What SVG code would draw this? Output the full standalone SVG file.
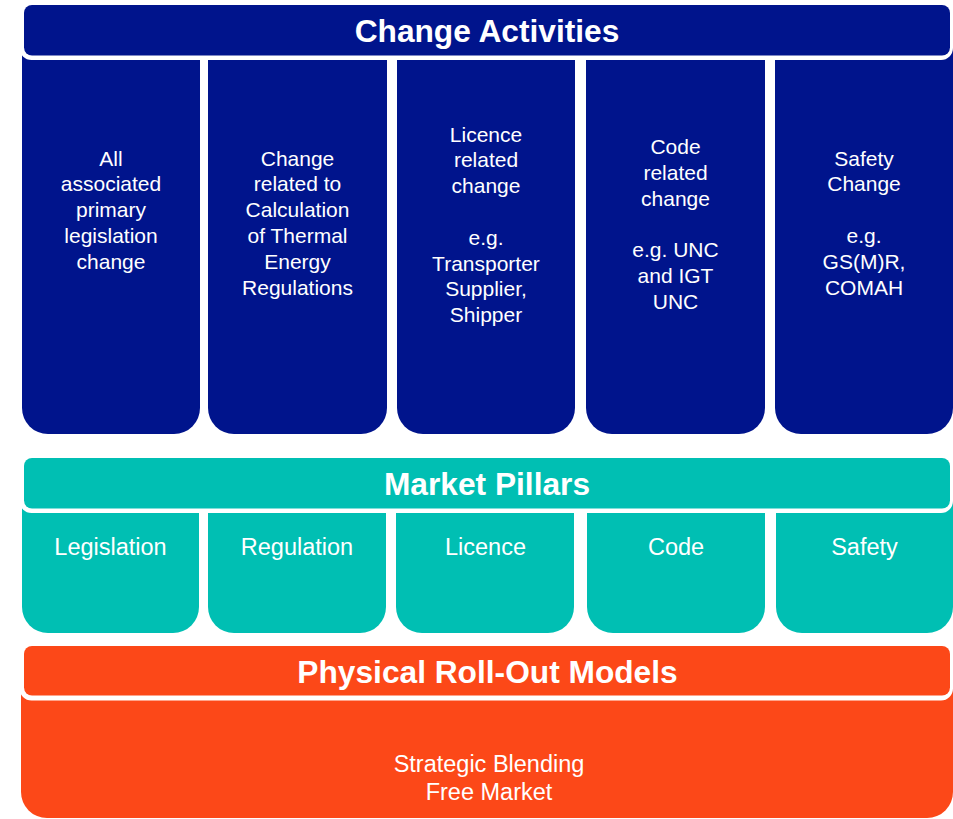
<svg xmlns="http://www.w3.org/2000/svg" width="953" height="819" viewBox="0 0 953 819">
<style>
.blue{fill:#00148C}
.teal{fill:#00BFB3}
.orange{fill:#FC4818}
.gap{fill:#FFFFFF}
.hd{font-family:"Liberation Sans",Arial,sans-serif;font-weight:bold;font-size:31.7px;fill:#FFFFFF;text-anchor:middle}
.bt{font-family:"Liberation Sans",Arial,sans-serif;font-size:21px;fill:#FFFFFF;text-anchor:middle}
.tt{font-family:"Liberation Sans",Arial,sans-serif;font-size:23.5px;fill:#FFFFFF;text-anchor:middle}
</style>
<rect width="953" height="819" fill="#FFFFFF"/>

<!-- Change Activities columns -->
<g id="ca-col1">
<path class="blue" d="M22,40 H200 V408 A26,26 0 0 1 174,434 H48 A26,26 0 0 1 22,408 Z"/>
<text class="bt"><tspan x="111" y="165.5">All</tspan><tspan x="111" dy="25.8">associated</tspan><tspan x="111" dy="25.8">primary</tspan><tspan x="111" dy="25.8">legislation</tspan><tspan x="111" dy="25.8">change</tspan></text>
</g>
<g id="ca-col2">
<path class="blue" d="M208,40 H387 V408 A26,26 0 0 1 361,434 H234 A26,26 0 0 1 208,408 Z"/>
<text class="bt"><tspan x="297.5" y="165.5">Change</tspan><tspan x="297.5" dy="25.8">related to</tspan><tspan x="297.5" dy="25.8">Calculation</tspan><tspan x="297.5" dy="25.8">of Thermal</tspan><tspan x="297.5" dy="25.8">Energy</tspan><tspan x="297.5" dy="25.8">Regulations</tspan></text>
</g>
<g id="ca-col3">
<path class="blue" d="M397,40 H575 V408 A26,26 0 0 1 549,434 H423 A26,26 0 0 1 397,408 Z"/>
<text class="bt"><tspan x="486" y="141.5">Licence</tspan><tspan x="486" dy="25.8">related</tspan><tspan x="486" dy="25.8">change</tspan><tspan x="486" dy="51.6">e.g.</tspan><tspan x="486" dy="25.8">Transporter</tspan><tspan x="486" dy="25.8">Supplier,</tspan><tspan x="486" dy="25.8">Shipper</tspan></text>
</g>
<g id="ca-col4">
<path class="blue" d="M586,40 H765 V408 A26,26 0 0 1 739,434 H612 A26,26 0 0 1 586,408 Z"/>
<text class="bt"><tspan x="675.5" y="154">Code</tspan><tspan x="675.5" dy="25.8">related</tspan><tspan x="675.5" dy="25.8">change</tspan><tspan x="675.5" dy="51.6">e.g. UNC</tspan><tspan x="675.5" dy="25.8">and IGT</tspan><tspan x="675.5" dy="25.8">UNC</tspan></text>
</g>
<g id="ca-col5">
<path class="blue" d="M775,40 H953 V408 A26,26 0 0 1 927,434 H801 A26,26 0 0 1 775,408 Z"/>
<text class="bt"><tspan x="864" y="165.5">Safety</tspan><tspan x="864" dy="25.8">Change</tspan><tspan x="864" dy="51.6">e.g.</tspan><tspan x="864" dy="25.8">GS(M)R,</tspan><tspan x="864" dy="25.8">COMAH</tspan></text>
</g>
<g id="ca-header">
<rect class="gap" x="19.5" y="0.5" width="933.5" height="59.5" rx="12"/>
<rect class="blue" x="24" y="5" width="926" height="50.5" rx="8"/>
<text class="hd" x="487" y="41.5">Change Activities</text>
</g>

<!-- Market Pillars columns -->
<g id="mp-col1">
<path class="teal" d="M22,495 H199 V607 A26,26 0 0 1 173,633 H48 A26,26 0 0 1 22,607 Z"/>
<text class="tt" x="110.5" y="554.5">Legislation</text>
</g>
<g id="mp-col2">
<path class="teal" d="M208,495 H386 V607 A26,26 0 0 1 360,633 H234 A26,26 0 0 1 208,607 Z"/>
<text class="tt" x="297" y="554.5">Regulation</text>
</g>
<g id="mp-col3">
<path class="teal" d="M396,495 H574 V607 A26,26 0 0 1 548,633 H422 A26,26 0 0 1 396,607 Z"/>
<text class="tt" x="485.5" y="554.5">Licence</text>
</g>
<g id="mp-col4">
<path class="teal" d="M587,495 H765 V607 A26,26 0 0 1 739,633 H613 A26,26 0 0 1 587,607 Z"/>
<text class="tt" x="676" y="554.5">Code</text>
</g>
<g id="mp-col5">
<path class="teal" d="M776,495 H953 V607 A26,26 0 0 1 927,633 H802 A26,26 0 0 1 776,607 Z"/>
<text class="tt" x="864.5" y="554.5">Safety</text>
</g>
<g id="mp-header">
<rect class="gap" x="19.5" y="453.5" width="933.5" height="59.5" rx="12"/>
<rect class="teal" x="24" y="458" width="926" height="50.5" rx="8"/>
<text class="hd" x="487" y="495">Market Pillars</text>
</g>

<!-- Physical Roll-Out Models -->
<g id="pr-body">
<path class="orange" d="M21,680 H953 V792 A26,26 0 0 1 927,818 H47 A26,26 0 0 1 21,792 Z"/>
<text class="tt"><tspan x="489" y="771.5">Strategic Blending</tspan><tspan x="489" dy="28.5">Free Market</tspan></text>
</g>
<g id="pr-header">
<rect class="gap" x="19.5" y="641.5" width="933.5" height="59" rx="12"/>
<rect class="orange" x="24" y="646" width="926" height="49.5" rx="8"/>
<text class="hd" x="487.5" y="683">Physical Roll-Out Models</text>
</g>

<g id="connectors"></g>
</svg>
